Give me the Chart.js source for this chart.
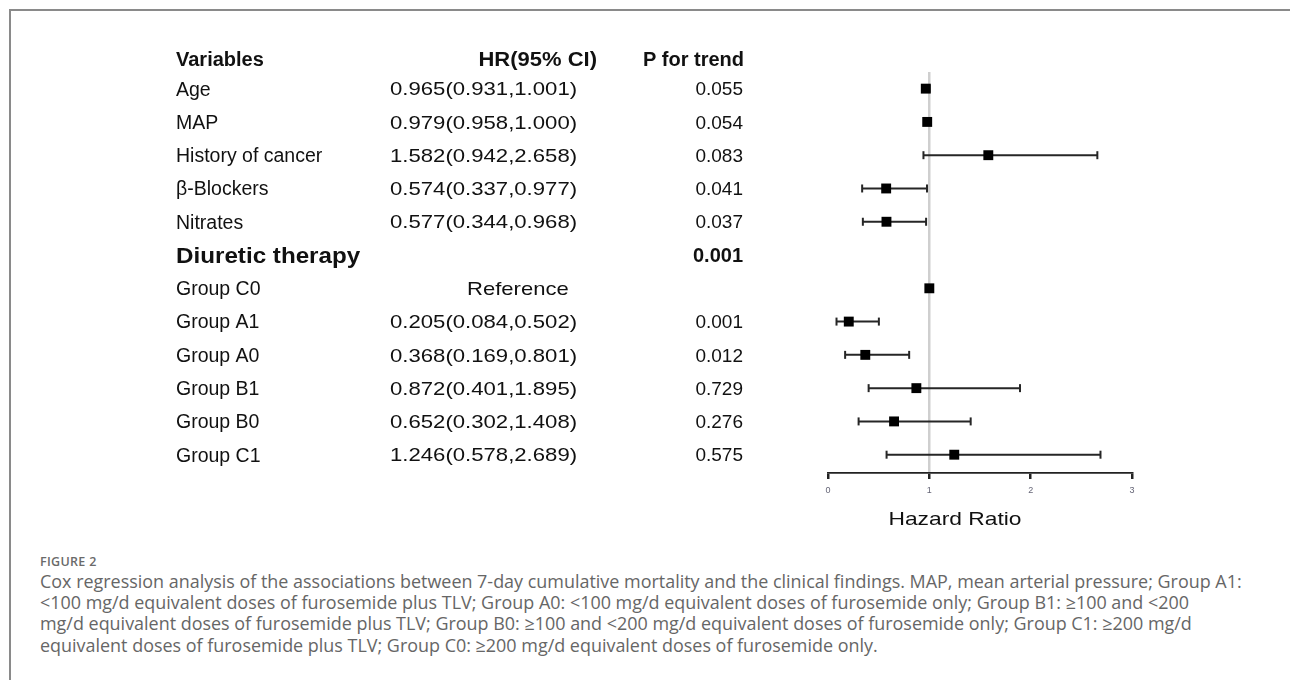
<!DOCTYPE html>
<html lang="en">
<head>
  <meta charset="UTF-8" />
  <title>Figure 2 - Cox regression</title>
  <script src="https://cdn.jsdelivr.net/npm/chart.js"></script>
  <style>
    body { margin: 0; background: #fff; width: 1290px; height: 680px; overflow: hidden; position: relative; }
    .frame { position: absolute; left: 9px; top: 9px; right: -10px; bottom: -10px; border-top: 2px solid #8a8a8a; border-left: 2px solid #8a8a8a; }
    #forest { position: absolute; left: 0; top: 0; }
    .figlabel { position: absolute; left: 40px; top: 553px; font: 600 12.5px "Open Sans", sans-serif; letter-spacing: 0.3px; color: #6a6a6a; }
    .caption { position: absolute; left: 40px; top: 571px; font: 17.95px/21.2px "Open Sans", sans-serif; color: #666; white-space: nowrap; }
  </style>
</head>
<body>
  <div class="frame"></div>
  <canvas id="forest" width="1290" height="545"></canvas>

  <div class="figlabel">FIGURE 2</div>
  <div class="caption">
    Cox regression analysis of the associations between 7-day cumulative mortality and the clinical findings. MAP, mean arterial pressure; Group A1:<br>
    &lt;100 mg/d equivalent doses of furosemide plus TLV; Group A0: &lt;100 mg/d equivalent doses of furosemide only; Group B1: &ge;100 and &lt;200<br>
    mg/d equivalent doses of furosemide plus TLV; Group B0: &ge;100 and &lt;200 mg/d equivalent doses of furosemide only; Group C1: &ge;200 mg/d<br>
    equivalent doses of furosemide plus TLV; Group C0: &ge;200 mg/d equivalent doses of furosemide only.
  </div>

  <script>
    // table rows (top to bottom)
    const variables = ["Age", "MAP", "History of cancer", "β-Blockers", "Nitrates", "Diuretic therapy",
                       "Group C0", "Group A1", "Group A0", "Group B1", "Group B0", "Group C1"];
    const hazard = [0.965, 0.979, 1.582, 0.574, 0.577, null, 1, 0.205, 0.368, 0.872, 0.652, 1.246];
    const ciLow  = [0.931, 0.958, 0.942, 0.337, 0.344, null, null, 0.084, 0.169, 0.401, 0.302, 0.578];
    const ciHigh = [1.001, 1.000, 2.658, 0.977, 0.968, null, null, 0.502, 0.801, 1.895, 1.408, 2.689];
    const pTrend = ["0.055", "0.054", "0.083", "0.041", "0.037", "0.001", "", "0.001", "0.012", "0.729", "0.276", "0.575"];
    const boldRows = ["Diuretic therapy"];
    const referenceRow = "Group C0";
    const xTicks = [0, 1, 2, 3];

    const TXT = '"Liberation Sans", Arial, sans-serif';

    const squares = [];
    hazard.forEach((v, i) => { if (v !== null) squares.push({ x: v, y: i + 1 }); });

    const datasets = [{
      data: squares,
      pointStyle: "rect",
      pointRadius: 7,
      backgroundColor: "#000",
      borderColor: "#000",
      borderWidth: 0,
      showLine: false
    }];
    variables.forEach((name, i) => {
      if (ciLow[i] === null) return;
      datasets.push({
        data: [{ x: ciLow[i], y: i + 1 }, { x: ciHigh[i], y: i + 1 }],
        showLine: true,
        borderColor: "#262626",
        borderWidth: 2,
        pointStyle: "line",
        rotation: 90,
        pointRadius: 4,
        pointBorderColor: "#262626",
        pointBorderWidth: 2
      });
    });

    // draw text squeezed/stretched horizontally like the source figure
    function wideText(c, s, x, y, sx) {
      c.save();
      c.translate(x, y);
      c.scale(sx, 1);
      c.fillText(s, 0, 0);
      c.restore();
    }

    const tablePlugin = {
      id: "table",
      afterDraw(chart) {
        const c = chart.ctx;
        const y = chart.scales.y;
        const x = chart.scales.x;
        c.save();
        c.fillStyle = "#111";
        c.textBaseline = "middle";

        // header
        const hy = y.getPixelForValue(0.14);
        c.font = "bold 20px " + TXT;
        c.textAlign = "left";
        c.fillText("Variables", 176, hy);
        c.textAlign = "right";
        wideText(c, "HR(95% CI)", 597, hy, 1.1);
        c.fillText("P for trend", 744, hy);

        variables.forEach((name, i) => {
          const ry = y.getPixelForValue(i + 1) + 1.5;
          const bold = boldRows.includes(name);
          c.textAlign = "left";
          if (bold) {
            c.font = "bold 22px " + TXT;
            wideText(c, name, 176, ry, 1.1);
          } else {
            c.font = "19.5px " + TXT;
            c.fillText(name, 176, ry);
          }
          c.font = "19px " + TXT;
          if (name === referenceRow) {
            wideText(c, "Reference", 467, ry, 1.16);
          } else if (hazard[i] !== null) {
            const s = hazard[i].toFixed(3) + "(" + ciLow[i].toFixed(3) + "," + ciHigh[i].toFixed(3) + ")";
            wideText(c, s, 390, ry, 1.165);
          }
          c.textAlign = "right";
          c.font = (bold ? "bold 20px " : "19px ") + TXT;
          c.fillText(pTrend[i], 743, ry);
        });

        // axis title
        c.font = "19px " + TXT;
        c.textAlign = "center";
        wideText(c, "Hazard Ratio", (x.left + x.right) / 2 - 25, 520, 1.2);
        c.restore();
      }
    };

    new Chart(document.getElementById("forest"), {
      type: "scatter",
      data: { datasets },
      options: {
        responsive: false,
        animation: false,
        devicePixelRatio: 1,
        layout: { padding: { left: 828, right: 158, top: 72, bottom: 42 } },
        plugins: { legend: { display: false }, tooltip: { enabled: false } },
        elements: { point: { hoverRadius: 0 } },
        datasets: { scatter: { clip: false } },
        scales: {
          x: {
            type: "linear",
            min: xTicks[0],
            max: xTicks[xTicks.length - 1],
            afterBuildTicks: (s) => { s.ticks = xTicks.map(v => ({ value: v })); },
            afterFit: (s) => { s.height = 30; },
            border: { display: true, color: "#222", width: 1.8 },
            grid: {
              drawOnChartArea: true,
              color: (ctx) => ctx.tick && ctx.tick.value === 1 ? "#cfcfcf" : "rgba(0,0,0,0)",
              lineWidth: 2.5,
              tickColor: "#222",
              tickLength: 6
            },
            ticks: { color: "#667", padding: 6, font: { size: 9, family: TXT } }
          },
          y: {
            type: "linear",
            display: false,
            reverse: true,
            min: 0.5,
            max: 12.55
          }
        }
      },
      plugins: [tablePlugin]
    });
  </script>
</body>
</html>
